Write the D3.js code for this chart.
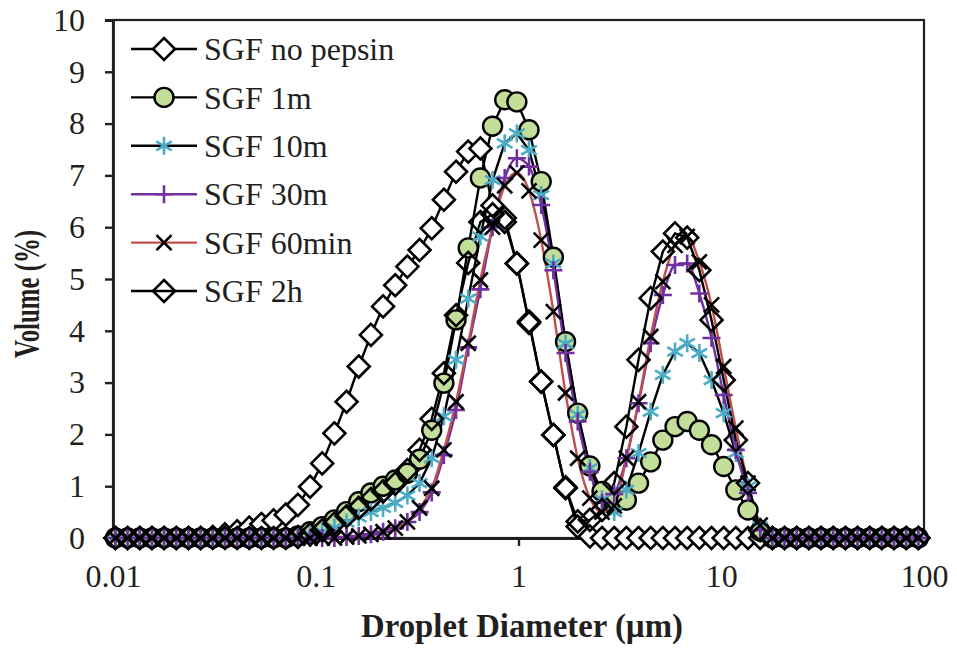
<!DOCTYPE html>
<html>
<head>
<meta charset="utf-8">
<script src="https://cdn.jsdelivr.net/npm/d3@7/dist/d3.min.js"></script>
<style>
  html, body { margin: 0; padding: 0; background: #fff; }
  svg { display: block; }
</style>
</head>
<body>
<svg id="chart" width="957" height="648"></svg>
<script>
// Droplet size classes (µm), log-spaced
const sizes = [0.01028,0.01180,0.01355,0.01556,0.01786,0.02051,0.02355,0.02704,0.03105,0.03565,
  0.04093,0.04699,0.05395,0.06194,0.07112,0.08166,0.09376,0.1076,0.1236,0.1419,
  0.1629,0.1871,0.2148,0.2466,0.2831,0.3251,0.3733,0.4285,0.4920,0.5649,
  0.6486,0.7447,0.8551,0.9817,1.127,1.294,1.486,1.706,1.959,2.249,
  2.582,2.965,3.404,3.908,4.487,5.152,5.916,6.792,7.798,8.954,
  10.28,11.80,13.55,15.56,17.86,20.51,23.55,27.04,31.05,35.65,
  40.93,46.99,53.95,61.94,71.12,81.66,93.76];

// Volume (%) per size class
const noPepsin = [0,0,0,0,0,0,0,0,0.02,0.07,
  0.13,0.2,0.27,0.34,0.45,0.64,0.99,1.44,2.02,2.63,
  3.31,3.92,4.47,4.88,5.24,5.56,5.98,6.53,7.07,7.46,
  7.52,6.42,6.18,5.3,4.18,3.02,1.99,0.96,0.22,0.03,
  0,0,0,0,0,0,0,0,0,0,
  0,0,0,0,0,0,0,0,0,0,
  0,0,0,0,0,0,0];
const sgf1m = [0,0,0,0,0,0,0,0,0,0,
  0,0,0,0,0,0.04,0.12,0.22,0.35,0.51,
  0.7,0.87,1.0,1.12,1.25,1.52,2.08,2.99,4.21,5.6,
  6.95,7.95,8.46,8.42,7.88,6.88,5.42,3.79,2.41,1.39,
  0.9,0.68,0.73,1.06,1.47,1.89,2.15,2.25,2.08,1.8,
  1.38,0.93,0.54,0.13,0,0,0,0,0,0,
  0,0,0,0,0,0,0];
const sgf10m = [0,0,0,0,0,0,0,0,0,0,
  0,0,0,0,0,0.02,0.06,0.12,0.2,0.3,
  0.4,0.5,0.58,0.68,0.82,1.06,1.54,2.35,3.44,4.62,
  5.82,6.91,7.62,7.81,7.49,6.62,5.3,3.75,2.38,1.35,
  0.75,0.5,0.93,1.64,2.44,3.15,3.6,3.76,3.57,3.05,
  2.41,1.64,0.99,0.22,0.02,0,0,0,0,0,
  0,0,0,0,0,0,0];
const sgf30m = [0,0,0,0,0,0,0,0,0,0,
  0,0,0,0,0,0,0,0,0,0.02,
  0.04,0.07,0.12,0.19,0.31,0.5,0.88,1.6,2.47,3.68,
  4.8,6.0,6.95,7.33,7.17,6.43,5.17,3.57,2.25,1.28,
  0.68,0.85,1.54,2.6,3.76,4.69,5.27,5.3,4.72,3.86,
  2.76,1.7,0.87,0.15,0,0,0,0,0,0,
  0,0,0,0,0,0,0];
const sgf60min = [0,0,0,0,0,0,0,0,0,0,
  0,0,0,0,0,0,0,0,0,0.02,
  0.04,0.07,0.12,0.19,0.31,0.58,0.96,1.7,2.63,3.76,
  4.98,6.0,6.8,7.05,6.7,5.75,4.37,2.8,1.54,0.77,
  0.5,0.62,1.54,2.63,3.89,4.95,5.65,5.82,5.33,4.5,
  3.31,2.12,1.06,0.25,0,0,0,0,0,0,
  0,0,0,0,0,0,0];
const sgf2h = [0,0,0,0,0,0,0,0,0,0,
  0,0,0,0,0,0.02,0.07,0.15,0.28,0.42,
  0.58,0.75,0.9,1.05,1.31,1.7,2.3,3.18,4.3,5.31,
  6.1,6.25,6.1,5.3,4.15,3.02,1.99,0.98,0.32,0.35,
  0.54,1.06,2.15,3.44,4.63,5.53,5.88,5.8,5.17,4.21,
  3.05,1.89,1.06,0.15,0,0,0,0,0,0,
  0,0,0,0,0,0,0];

const seriesNames = ["SGF no pepsin", "SGF 1m", "SGF 10m", "SGF 30m", "SGF 60min", "SGF 2h"];
const seriesValues = [noPepsin, sgf1m, sgf10m, sgf30m, sgf60min, sgf2h];
const xTicks = [0.01, 0.1, 1, 10, 100];
const xTickLabels = ["0.01", "0.1", "1", "10", "100"];
const yTicks = [0,1,2,3,4,5,6,7,8,9,10];

(function () {
  const styles = [
    { line: "#000", marker: "diamond", stroke: "#000", fill: "#fff", curve: d3.curveLinear },
    { line: "#000", marker: "circle",  stroke: "#000", fill: "#c2de98", curve: d3.curveLinear },
    { line: "#000", marker: "star",    stroke: "#4bacc6", fill: "none", curve: d3.curveLinear },
    { line: "#7030a0", marker: "plus", stroke: "#7030a0", fill: "none", curve: d3.curveMonotoneX },
    { line: "#c0504d", marker: "cross", stroke: "#000", fill: "none", curve: d3.curveMonotoneX },
    { line: "#000", marker: "diamond", stroke: "#000", fill: "none", curve: d3.curveLinear }
  ];

  const svg = d3.select("#chart");
  const plotLeft = 113, plotRight = 924, plotTop = 20, plotBottom = 538;
  const x = d3.scaleLog().domain([0.01, 100]).range([plotLeft, plotRight]);
  const y = d3.scaleLinear().domain([0, 10]).range([plotBottom, plotTop]);

  const serif = "'Liberation Serif', 'Times New Roman', serif";
  const textColor = "#231f20";

  function markerPath(type) {
    const r = 11, s = 9;
    switch (type) {
      case "diamond": return `M0,${-r}L${r},0L0,${r}L${-r},0Z`;
      case "star": {
        const a = s * Math.cos(Math.PI / 6), b = s * Math.sin(Math.PI / 6);
        return `M0,${-s}L0,${s}M${-a},${-b}L${a},${b}M${-a},${b}L${a},${-b}`;
      }
      case "plus": return `M0,${-s}L0,${s}M${-s},0L${s},0`;
      case "cross": { const c = 7.5; return `M${-c},${-c}L${c},${c}M${-c},${c}L${c},${-c}`; }
    }
    return "";
  }

  function drawMarker(g, st) {
    if (st.marker === "circle") {
      g.append("circle").attr("r", 9.5).attr("fill", st.fill).attr("stroke", st.stroke).attr("stroke-width", 2.4);
    } else {
      g.append("path").attr("d", markerPath(st.marker))
        .attr("fill", st.fill).attr("stroke", st.stroke).attr("stroke-width", 2.6);
    }
  }

  // plot frame
  svg.append("rect").attr("x", plotLeft).attr("y", plotTop)
    .attr("width", plotRight - plotLeft).attr("height", plotBottom - plotTop)
    .attr("fill", "none").attr("stroke", "#231f20").attr("stroke-width", 2.2);

  // axes
  const yAxis = d3.axisLeft(y).tickValues(yTicks).tickSize(8).tickPadding(20).tickFormat(d3.format("d"));
  const xAxis = d3.axisBottom(x).tickValues(xTicks).tickSize(8).tickPadding(18)
    .tickFormat((d, i) => xTickLabels[i]);

  const gy = svg.append("g").attr("transform", `translate(${plotLeft},0)`).call(yAxis);
  const gx = svg.append("g").attr("transform", `translate(0,${plotBottom})`).call(xAxis);
  [gx, gy].forEach(g => {
    g.select(".domain").attr("stroke", "#231f20").attr("stroke-width", 2.8);
    g.selectAll(".tick line").attr("stroke", "#231f20").attr("stroke-width", 2.4);
    g.selectAll(".tick text").attr("fill", textColor).style("font-family", serif).style("font-size", "32px");
  });

  // series lines, then markers
  const plot = svg.append("g");
  seriesValues.forEach((vals, si) => {
    const st = styles[si];
    const pts = sizes.map((s, i) => [s, vals[i]]);
    const line = d3.line().x(d => x(d[0])).y(d => y(d[1])).curve(st.curve);
    plot.append("path").datum(pts).attr("d", line).attr("fill", "none")
      .attr("stroke", st.line).attr("stroke-width", 2.4);
  });
  seriesValues.forEach((vals, si) => {
    const st = styles[si];
    const pts = sizes.map((s, i) => [s, vals[i]]);
    plot.append("g").selectAll("g").data(pts).join("g")
      .attr("transform", d => `translate(${x(d[0])},${y(d[1])})`)
      .each(function () { drawMarker(d3.select(this), st); });
  });

  // legend
  const legend = svg.append("g");
  seriesNames.forEach((name, i) => {
    const cy = 49 + i * 48.4;
    const st = styles[i];
    legend.append("line").attr("x1", 131).attr("x2", 197).attr("y1", cy).attr("y2", cy)
      .attr("stroke", st.line).attr("stroke-width", 2.4);
    const g = legend.append("g").attr("transform", `translate(164,${cy})`);
    drawMarker(g, st);
    legend.append("text").attr("x", 204).attr("y", cy).attr("dy", "0.35em")
      .style("font-family", serif).style("font-size", "32px").attr("fill", textColor).text(name);
  });

  // axis titles
  svg.append("text").attr("x", 522).attr("y", 637).attr("text-anchor", "middle")
    .style("font-family", serif).style("font-size", "34px").style("font-weight", "bold")
    .attr("textLength", 322).attr("lengthAdjust", "spacingAndGlyphs").attr("fill", textColor)
    .text("Droplet Diameter (µm)");
  svg.append("text").attr("transform", "translate(39,294) rotate(-90)").attr("text-anchor", "middle")
    .style("font-family", serif).style("font-size", "35px").style("font-weight", "bold")
    .attr("textLength", 128).attr("lengthAdjust", "spacingAndGlyphs").attr("fill", textColor)
    .text("Volume (%)");
})();
</script>
</body>
</html>
